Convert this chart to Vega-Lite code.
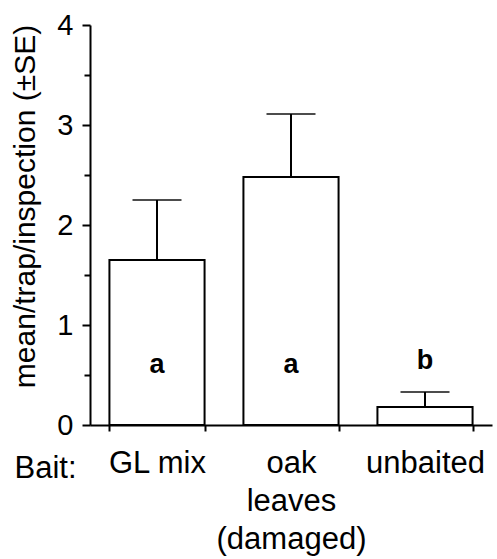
{
  "$schema": "https://vega.github.io/schema/vega-lite/v6.json",
  "autosize": "none",
  "padding": {"left": 90, "top": 25, "right": 5, "bottom": 134},
  "width": 402,
  "height": 400,
  "background": "white",
  "config": {
    "view": {"stroke": null},
    "font": "Liberation Sans"
  },
  "data": {
    "values": [
      {"bait": "GL mix", "mean": 1.65, "upper": 2.25, "letter": "a", "ly": 0.52},
      {"bait": "oak leaves (damaged)", "mean": 2.48, "upper": 3.11, "letter": "a", "ly": 0.52},
      {"bait": "unbaited", "mean": 0.18, "upper": 0.33, "letter": "b", "ly": 0.56}
    ]
  },
  "encoding": {
    "x": {
      "field": "bait",
      "type": "nominal",
      "sort": null,
      "scale": {"paddingInner": 0.29, "paddingOuter": 0.145},
      "axis": {
        "title": "Bait:",
        "titleAngle": 0,
        "titleAlign": "left",
        "titleBaseline": "alphabetic",
        "titleX": -76,
        "titleY": 52,
        "titleFontSize": 31,
        "titleFontWeight": "normal",
        "titleColor": "black",
        "labelAngle": 0,
        "labelFontSize": 31,
        "labelColor": "black",
        "labelPadding": 17,
        "labelLineHeight": 38,
        "labelExpr": "datum.value == 'oak leaves (damaged)' ? ['oak', 'leaves', '(damaged)'] : datum.value",
        "tickBand": "extent",
        "tickSize": 6,
        "tickWidth": 2,
        "tickColor": "black",
        "domainColor": "black",
        "domainWidth": 2
      }
    }
  },
  "layer": [
    {
      "mark": {"type": "bar", "fill": "white", "stroke": "black", "strokeWidth": 2},
      "encoding": {
        "y": {
          "field": "mean",
          "type": "quantitative",
          "scale": {"domain": [0, 4], "nice": false},
          "axis": {
            "title": "mean/trap/inspection (±SE)",
            "titleFontSize": 30,
            "titleFontWeight": "normal",
            "titleColor": "black",
            "titleAngle": -90,
            "titleAlign": "center",
            "titleBaseline": "middle",
            "titleX": -65,
            "titleY": 181,
            "values": [0, 0.5, 1, 1.5, 2, 2.5, 3, 3.5, 4],
            "labelExpr": "datum.value % 1 == 0 ? format(datum.value, 'd') : ''",
            "labelFontSize": 29,
            "labelColor": "black",
            "labelPadding": 9,
            "tickSize": {"condition": {"test": "datum.value % 1 == 0", "value": 8}, "value": 6},
            "tickWidth": 2,
            "tickColor": "black",
            "domainColor": "black",
            "domainWidth": 2,
            "grid": false
          }
        }
      }
    },
    {
      "mark": {"type": "rule", "stroke": "black", "strokeWidth": 2},
      "encoding": {
        "y": {"field": "mean", "type": "quantitative"},
        "y2": {"field": "upper"}
      }
    },
    {
      "mark": {"type": "tick", "color": "black", "thickness": 2, "size": 49},
      "encoding": {
        "y": {"field": "upper", "type": "quantitative"}
      }
    },
    {
      "mark": {"type": "text", "fontSize": 27, "fontWeight": "bold", "baseline": "alphabetic", "color": "black"},
      "encoding": {
        "y": {"field": "ly", "type": "quantitative"},
        "text": {"field": "letter"}
      }
    }
  ]
}
